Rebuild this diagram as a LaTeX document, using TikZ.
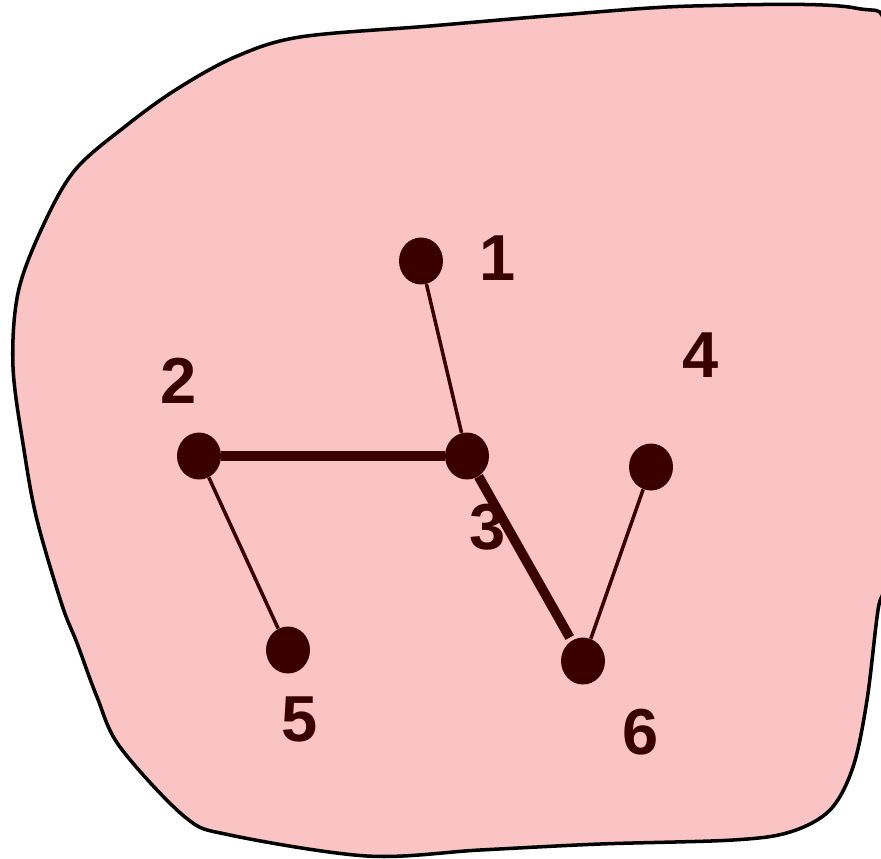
\documentclass[tikz,border=0pt]{standalone}
\usepackage{fontspec}
\setmainfont{Liberation Sans}
\usepackage{xcolor}
\definecolor{blobPink}{HTML}{FBC4C4}
\definecolor{dotRed}{HTML}{3A0000}
\usetikzlibrary{shapes.geometric}

\begin{document}
\begin{tikzpicture}[x=0.02cm, y=-0.02cm,
    dot/.style={ellipse, fill=dotRed, minimum width=0.88cm, minimum height=0.94cm, inner sep=0pt},
    num/.style={font=\bfseries\fontsize{37}{40}\selectfont, text=dotRed, inner sep=0pt},
    lnk/.style={line width=2pt, dotRed},
    heavylnk/.style={line width=5.5pt, dotRed},
    blob/.style={fill=blobPink, draw=black, line width=2pt}
  ]
    \useasboundingbox (0,0) rectangle (881,858);
    % region
    \begin{scope}
      \clip (0,0) rectangle (881,858);
      \draw[blob] plot[smooth cycle, tension=0.55] coordinates {
        (300,37) (430,26) (560,15) (693,6) (855,8) (888,45) (905,300)
        (888,560) (878,610) (867,700) (853,767) (830,810) (790,832)
        (733,840) (600,844) (480,850) (367,856) (230,835) (185,817)
        (120,747) (97,697) (77,643) (62,605) (37,520) (24,450)
        (13,367) (18,293) (42,228) (75,170) (127,125) (177,89) (235,57)};
    \end{scope}
    % vertices
    \node[dot] (v1) at (421,261) {};
    \node[dot] (v2) at (199,456) {};
    \node[dot] (v3) at (467,456) {};
    \node[dot] (v4) at (651,467) {};
    \node[dot] (v5) at (288,650) {};
    \node[dot] (v6) at (583,661) {};
    \node[num] (n1) at (498,258) {1};
    \node[num] (n2) at (179,381) {2};
    \node[num] (n3) at (488,527) {3};
    \node[num] (n4) at (701,355) {4};
    \node[num] (n5) at (300,719) {5};
    \node[num] (n6) at (641,732) {6};
    % edges
    \draw[lnk] (v1) -- (v3);
    \draw[heavylnk] (v2) -- (v3);
    \draw[lnk] (v2) -- (v5);
    \draw[heavylnk, shorten >=2pt] (v3) -- (v6);
    \draw[lnk] (v4) -- (v6);
\end{tikzpicture}
\end{document}
